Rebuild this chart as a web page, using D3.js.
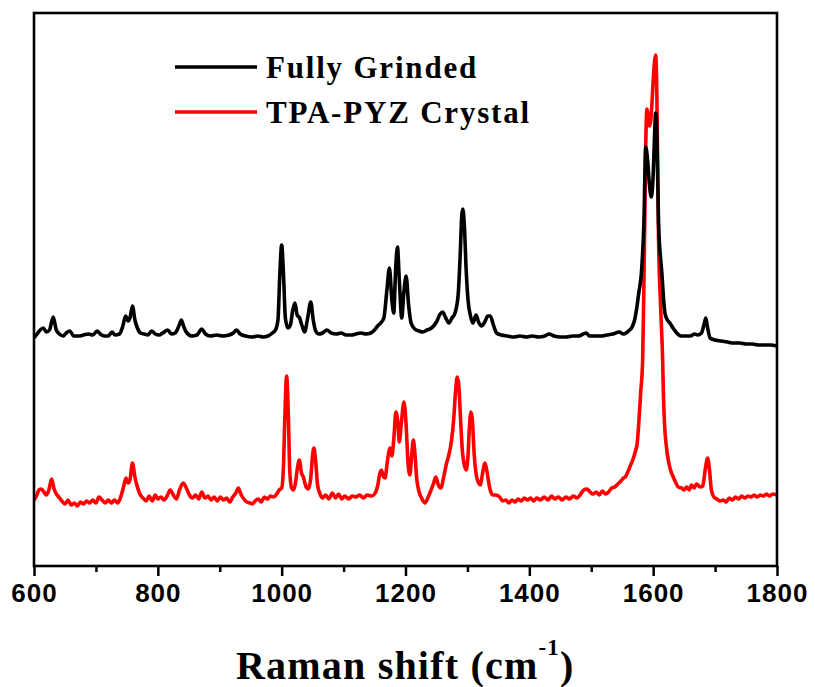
<!DOCTYPE html>
<html>
<head>
<meta charset="utf-8">
<script src="https://cdn.jsdelivr.net/npm/d3@7"></script>
<style>
  html, body { margin: 0; padding: 0; background: #fff; }
  svg { display: block; }
</style>
</head>
<body>
<svg id="chart" width="815" height="687"></svg>
<script>
// Raman shift axis ticks (cm^-1)
const xMajorTicks = [600, 800, 1000, 1200, 1400, 1600, 1800];
const xMinorTicks = [700, 900, 1100, 1300, 1500, 1700];

// Series names as shown in the legend
const seriesNames = ["Fully Grinded", "TPA-PYZ Crystal"];

// Fully grinded sample: Raman shift (cm^-1)
const grindShift = [
  600, 605, 610, 615, 620, 625, 631, 636, 641, 647, 652, 658, 664, 672, 680, 688, 695,
  702, 707, 714, 720, 726, 731, 738, 743, 748, 752, 755, 759, 763, 767, 772, 778, 784,
  790, 796, 802, 808, 816, 822, 828, 834, 838, 842, 847, 855, 863, 871, 877, 885, 895,
  905, 915, 922, 927, 933, 942, 952, 962, 970, 978, 985, 990, 994, 997, 1000, 1003,
  1006, 1010, 1014, 1018, 1021.5, 1025, 1029, 1033, 1037, 1042, 1047, 1051, 1055,
  1060, 1066, 1073, 1080, 1088, 1096, 1104, 1112, 1120, 1128, 1136, 1144, 1150, 1155,
  1160, 1165, 1170, 1174, 1178, 1181, 1184, 1187, 1190, 1194, 1197, 1201, 1205, 1209,
  1215, 1222, 1228, 1235, 1242, 1250, 1256, 1260, 1265, 1270, 1275, 1280, 1285, 1288,
  1291, 1292.5, 1295, 1298, 1301, 1305, 1309, 1314, 1318, 1323, 1328, 1333, 1337,
  1342, 1347, 1355, 1365, 1375, 1385, 1395, 1405, 1415, 1425, 1432, 1440, 1450, 1460,
  1470, 1480, 1487, 1492, 1497, 1505, 1515, 1525, 1535, 1545, 1552, 1560, 1566, 1570,
  1573, 1577, 1581, 1585, 1588, 1591, 1594, 1597, 1600, 1602, 1604, 1606, 1608.7,
  1614, 1619, 1623, 1627, 1632, 1638, 1645, 1652, 1660, 1667, 1672, 1678, 1682, 1685,
  1688, 1692, 1700, 1710, 1720, 1730, 1740, 1750, 1760, 1770, 1780, 1790, 1800
];
// Fully grinded sample: intensity (a.u., offset trace)
const grindIntensity = [
  228, 232, 236, 238, 234, 236, 249, 236, 232, 230, 233, 235, 230, 230, 231, 232, 231,
  235, 232, 230, 230, 234, 231, 232, 239, 250, 245, 248, 260, 246, 238, 233, 232, 231,
  235, 232, 231, 233, 236, 232, 233, 240, 246, 239, 233, 230, 231, 237, 232, 230, 231,
  230, 231, 233, 236, 232, 230, 229, 230, 229, 230, 233, 236, 246, 291, 321, 291,
  248, 238, 241, 256, 263, 251, 248, 240, 234, 248, 264, 246, 235,
  232, 233, 236, 233, 232, 233, 231, 231, 232, 233, 232, 233, 236, 240,
  243, 248, 276, 298, 266, 253, 296, 319, 286, 248, 271, 290, 261, 243,
  237, 235, 234, 236, 238, 244, 252, 254, 248, 243, 248, 253, 271, 306,
  351, 357, 341, 296, 266, 250, 243, 251, 244, 240, 244, 250, 250,
  241, 233, 231, 230, 229, 230, 229, 230, 229, 230, 232, 230, 229, 229,
  230, 230, 232, 233, 230, 230, 230, 231, 232, 234, 232, 235, 239, 246,
  256, 274, 293, 343, 419, 406, 381, 369, 391, 426, 453, 431, 343,
  293, 253, 246, 243, 238, 233, 230, 230, 230, 232, 231, 233, 241, 248,
  238, 228, 226, 225, 224, 223, 223, 222, 222, 221, 221, 221, 220
];

// TPA-PYZ crystal: Raman shift (cm^-1)
const crystalShift = [
  600, 604, 608, 612, 616, 620, 624, 628.5, 632, 636, 640, 645, 650, 655, 660, 665, 670,
  675, 680, 685, 690, 695, 700, 705, 710, 715, 720, 725, 730, 735, 740, 745, 748.6,
  752, 755, 759, 763, 767, 771, 776, 781, 786, 791, 796, 800, 805, 810, 815, 820, 825,
  830, 835, 841, 846, 851, 856, 861, 866, 871, 876, 881, 886, 891, 896, 901, 906, 911,
  916, 921, 926, 930, 934, 939, 944, 949, 953, 957, 962, 967, 972, 977, 982, 987, 992,
  996, 1000, 1003, 1005, 1008, 1011, 1013, 1016, 1019, 1022, 1025, 1028.5, 1032, 1035,
  1039, 1043, 1047, 1050, 1052, 1055, 1058, 1062, 1066, 1071, 1076, 1082, 1087, 1092,
  1097, 1102, 1108, 1114, 1120, 1126, 1132, 1138, 1145, 1150, 1155, 1158, 1161, 1164,
  1167, 1170, 1173, 1175, 1178, 1181, 1184.6, 1188, 1190, 1193, 1197.5, 1201, 1204,
  1207, 1210, 1212.6, 1215, 1218, 1222, 1226, 1231.5, 1236, 1240, 1245, 1249, 1253,
  1257, 1262, 1266, 1270, 1274, 1278, 1281, 1283.6, 1286, 1289, 1292, 1295, 1298, 1301,
  1303, 1305.7, 1308, 1311, 1314, 1318, 1321, 1324, 1328.4, 1332, 1336, 1341, 1346,
  1352, 1357, 1362, 1367, 1372, 1377, 1382, 1387, 1392, 1397, 1402, 1407, 1412, 1418,
  1424, 1430, 1436, 1441, 1447, 1453, 1459, 1465, 1471, 1477, 1483, 1488, 1493, 1498,
  1503, 1508, 1513, 1518, 1523, 1528, 1533, 1538, 1543, 1548, 1552, 1555, 1559, 1563,
  1567, 1571, 1574.3, 1577, 1579.8, 1583, 1585, 1586.7, 1588, 1590, 1592, 1594, 1596,
  1598, 1601, 1604, 1606, 1608.5, 1612, 1615.3, 1616.5, 1618.5, 1620.7, 1624.4, 1628,
  1632.4, 1636, 1640.5, 1646, 1650, 1654, 1658, 1662, 1666, 1670, 1676, 1680, 1684,
  1688, 1691, 1694, 1698, 1703, 1708, 1713, 1718, 1723, 1728, 1733, 1738, 1743, 1748,
  1753, 1758, 1763, 1768, 1773, 1778, 1783, 1788, 1793, 1800
];
// TPA-PYZ crystal: intensity (a.u.)
const crystalIntensity = [
  66, 70, 76, 77, 74, 71, 76, 87, 78, 72, 69, 65, 62, 66, 61, 63, 60,
  64, 62, 65, 63, 66, 63, 69, 66, 63, 66, 63, 66, 63, 69, 80, 88,
  83, 86, 103, 89, 79, 72, 68, 65, 70, 65, 71, 67, 69, 66, 70, 76, 71,
  67, 76, 83, 78, 71, 68, 71, 67, 74, 68, 70, 66, 69, 65, 69, 66, 68,
  64, 69, 73, 78, 72, 67, 64, 63, 62, 65, 67, 64, 69, 67, 70, 69, 72,
  76, 78, 101, 146, 190, 146, 96, 78, 76, 82, 96, 106, 93, 89,
  80, 77, 88, 111, 118, 104, 81, 72, 68, 71, 67, 73, 68, 72,
  67, 70, 67, 70, 69, 71, 68, 71, 70, 72, 80, 91, 96, 90,
  88, 101, 114, 118, 110, 126, 154, 141, 124, 141, 164, 141, 104,
  91, 111, 126, 114, 88, 74, 68, 63, 68, 74, 82, 89, 81,
  78, 90, 102, 111, 124, 148, 176, 189, 181, 146, 114, 101, 96, 111,
  136, 154, 146, 111, 92, 83, 81, 91, 103, 93, 78, 71, 71,
  69, 65, 66, 63, 66, 64, 67, 65, 68, 66, 68, 65, 68, 66,
  69, 66, 70, 67, 69, 66, 69, 67, 70, 68, 72, 76, 77, 74,
  72, 74, 71, 75, 72, 74, 78, 79, 82, 85, 88, 89, 94, 100,
  106, 114, 123, 145, 173, 206, 280, 359, 420, 457, 450, 440, 445,
  462, 495, 511, 470, 333, 260, 206, 173, 140, 123, 106, 96,
  89, 84, 79, 78, 76, 79, 76, 81, 78, 82, 79, 80, 96,
  108, 96, 76, 69, 67, 65, 66, 64, 68, 66, 69, 67, 70, 68,
  70, 69, 71, 69, 71, 70, 72, 70, 72, 71
];

const svg = d3.select("#chart");
const margin = { left: 34, right: 38, top: 13, bottom: 121 };
const W = 815, H = 687;
const x0 = margin.left, x1 = W - margin.right;
const y0 = margin.top, y1 = H - margin.bottom;

const x = d3.scaleLinear().domain([600, 1800]).range([x0, x1]);
const y = d3.scaleLinear().domain([0, 553]).range([y1, y0]);

svg.append("clipPath").attr("id", "plot-clip")
  .append("rect").attr("x", x0).attr("y", y0).attr("width", x1 - x0).attr("height", y1 - y0);

const line = d3.line()
  .x(d => x(d[0]))
  .y(d => y(d[1]))
  .curve(d3.curveMonotoneX);

const crystal = d3.zip(crystalShift, crystalIntensity);
const grind = d3.zip(grindShift, grindIntensity);

const traces = svg.append("g").attr("clip-path", "url(#plot-clip)");
traces.append("path")
  .datum(crystal)
  .attr("d", line)
  .attr("fill", "none")
  .attr("stroke", "#ff0000")
  .attr("stroke-width", 3.6)
  .attr("stroke-linejoin", "round");
traces.append("path")
  .datum(grind)
  .attr("d", line)
  .attr("fill", "none")
  .attr("stroke", "#000000")
  .attr("stroke-width", 3.6)
  .attr("stroke-linejoin", "round");

// Bottom axis: major ticks with labels, minor ticks without
const axisMajor = d3.axisBottom(x).tickValues(xMajorTicks).tickSize(10).tickPadding(8)
  .tickFormat(d3.format("d"));
const gx = svg.append("g").attr("transform", `translate(0,${y1})`).call(axisMajor);
gx.select(".domain").remove();
gx.selectAll(".tick line").attr("stroke", "#000").attr("stroke-width", 2.5);
gx.selectAll(".tick text")
  .attr("fill", "#000")
  .style("font-family", "'Liberation Sans', Arial, sans-serif")
  .style("font-weight", "bold")
  .style("font-size", "26px")
  .style("letter-spacing", "1px");

const axisMinor = d3.axisBottom(x).tickValues(xMinorTicks).tickSize(6).tickFormat("");
const gm = svg.append("g").attr("transform", `translate(0,${y1})`).call(axisMinor);
gm.select(".domain").remove();
gm.selectAll(".tick line").attr("stroke", "#000").attr("stroke-width", 2.5);

// Plot frame
svg.append("rect")
  .attr("x", x0).attr("y", y0)
  .attr("width", x1 - x0).attr("height", y1 - y0)
  .attr("fill", "none")
  .attr("stroke", "#000")
  .attr("stroke-width", 2.6);

// Axis title
const title = svg.append("text")
  .attr("x", 236)
  .attr("y", 679)
  .attr("fill", "#000")
  .style("font-family", "'Liberation Serif', 'Times New Roman', serif")
  .style("font-weight", "bold")
  .style("font-size", "40px")
  .style("letter-spacing", "1.2px");
title.append("tspan").text("Raman shift (cm");
title.append("tspan").attr("dy", -24).style("font-size", "23px").text("-1");
title.append("tspan").attr("dy", 24).text(")");

// Legend
const legendColors = ["#000000", "#ff0000"];
const legendRows = [67, 112];
const legend = svg.append("g");
seriesNames.forEach((name, i) => {
  legend.append("line")
    .attr("x1", 175).attr("x2", 257)
    .attr("y1", legendRows[i]).attr("y2", legendRows[i])
    .attr("stroke", legendColors[i])
    .attr("stroke-width", 3.4);
  legend.append("text")
    .attr("x", 266)
    .attr("y", legendRows[i] + 11)
    .attr("fill", "#000")
    .style("font-family", "'Liberation Serif', 'Times New Roman', serif")
    .style("font-weight", "bold")
    .style("font-size", "31px")
    .style("letter-spacing", "1.8px")
    .text(name);
});
</script>
</body>
</html>
